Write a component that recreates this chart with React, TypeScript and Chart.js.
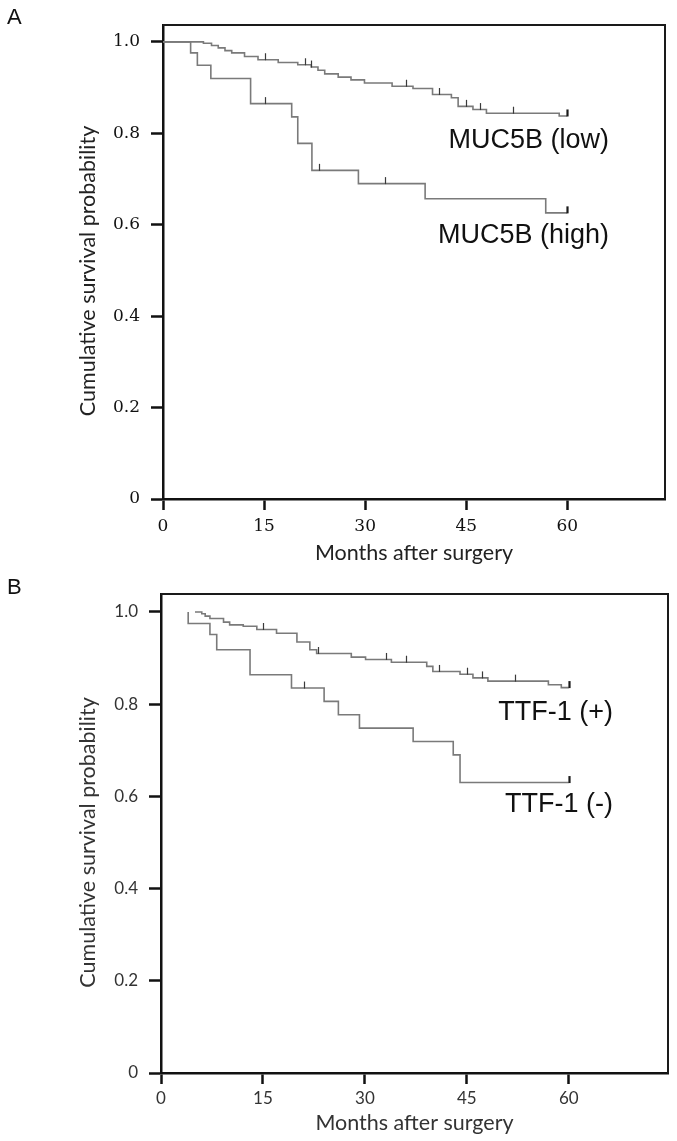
import React, { useEffect, useRef } from 'react';
import { Chart, registerables } from 'chart.js';

Chart.register(...registerables);

// ---------- data ----------
const xTickValues = [0, 15, 30, 45, 60];
const yTickValues = [0, 0.2, 0.4, 0.6, 0.8, 1.0];
const followUp = 60;
const xTitle = 'Months after surgery';
const yTitle = 'Cumulative survival probability';

// Panel A: MUC5B
const lowTimes = [0, 6.0, 7.2, 8.2, 9.2, 10.2, 12.1, 14.1, 17.1, 20.0, 22.0, 23.0, 24.0, 26.0, 27.9, 29.9, 34.0, 37.1, 40.0, 42.8, 43.8, 46.0, 48.0, 58.8, 60];
const lowSurv = [1.0, 0.997, 0.992, 0.987, 0.981, 0.976, 0.968, 0.961, 0.955, 0.950, 0.945, 0.938, 0.930, 0.923, 0.917, 0.910, 0.903, 0.898, 0.885, 0.878, 0.859, 0.852, 0.844, 0.838, 0.838];
const lowCensor = [15.1, 21.0, 22.0, 36.0, 40.9, 44.9, 47.0, 51.9, 60];

const highTimes = [0, 4.1, 5.1, 7.1, 13.0, 19.1, 20.0, 22.1, 29.0, 38.9, 56.8, 60];
const highSurv = [1.0, 0.976, 0.949, 0.920, 0.865, 0.836, 0.778, 0.719, 0.690, 0.657, 0.626, 0.626];
const highCensor = [15.1, 23.1, 33.0, 60];

const labelsA = ['MUC5B (low)', 'MUC5B (high)'];
const labelAX = [66.2, 66.2];
const labelAY = [0.767, 0.560];

// Panel B: TTF-1
const posTimes = [5.0, 6.0, 6.5, 7.2, 9.2, 10.1, 12.1, 14.1, 17.0, 20.0, 21.9, 22.9, 28.0, 30.1, 33.9, 39.1, 40.0, 44.0, 45.9, 48.1, 57.0, 58.9, 60];
const posSurv = [1.0, 0.996, 0.991, 0.986, 0.978, 0.972, 0.969, 0.962, 0.954, 0.935, 0.918, 0.910, 0.902, 0.897, 0.891, 0.882, 0.871, 0.865, 0.857, 0.850, 0.842, 0.836, 0.836];
const posCensor = [15.0, 23.1, 33.1, 36.1, 40.9, 45.0, 47.2, 52.1, 60];

const negTimes = [4.0, 4.0, 7.2, 8.2, 13.1, 19.2, 24.0, 26.1, 29.2, 37.1, 43.0, 44.0, 60];
const negSurv = [1.0, 0.975, 0.951, 0.918, 0.864, 0.835, 0.806, 0.777, 0.748, 0.719, 0.690, 0.630, 0.630];
const negCensor = [21.0, 60];

const labelsB = ['TTF-1 (+)', 'TTF-1 (-)'];
const labelBX = [66.5, 66.5];
const labelBY = [0.766, 0.567];

// ---------- helpers ----------
function survivalAt(times: number[], surv: number[], t: number) {
  let v = surv[0];
  for (let i = 0; i < times.length; i++) {
    if (times[i] <= t) v = surv[i];
  }
  return v;
}

type Series = { times: number[]; surv: number[]; censor: number[] };

type Panel = {
  series: Series[];
  labels: string[];
  labelX: number[];
  labelY: number[];
  yMax: number;
  xMax: number;
  padTop: number;
  padRight: number;
  yWidth: number;
  xHeight: number;
  tickFont: string;
  tickSize: number;
  tickColor: string;
  xTickPad: number;
  titleColor: string;
  xTitlePad: number;
};

const TITLE_FAMILY = 'Lato, "Open Sans", sans-serif';
const TITLE_SIZE = 21.5;

function buildChart(canvas: HTMLCanvasElement, p: Panel) {
  const extras = {
    id: 'kmExtras',
    afterDatasetsDraw(chart: any) {
      const ctx = chart.ctx as CanvasRenderingContext2D;
      const xs = chart.scales.x;
      const ys = chart.scales.y;
      const a = chart.chartArea;
      ctx.save();
      // censor marks
      p.series.forEach((s) => {
        s.censor.forEach((t) => {
          const v = survivalAt(s.times, s.surv, t);
          const px = Math.round(xs.getPixelForValue(t)) + 0.5;
          const py = ys.getPixelForValue(v);
          const end = t >= followUp;
          ctx.strokeStyle = end ? '#1a1a1a' : '#3a3a3a';
          ctx.lineWidth = end ? 2.2 : 1.2;
          ctx.beginPath();
          ctx.moveTo(px, py + 0.5);
          ctx.lineTo(px, py - 6.5);
          ctx.stroke();
        });
      });
      // group labels
      ctx.fillStyle = '#111';
      ctx.font = '27px "Liberation Sans", Arial, sans-serif';
      ctx.textAlign = 'right';
      ctx.textBaseline = 'alphabetic';
      p.labels.forEach((txt, i) => {
        ctx.fillText(txt, xs.getPixelForValue(p.labelX[i]), ys.getPixelForValue(p.labelY[i]));
      });
      // top/right frame
      ctx.strokeStyle = '#1a1a1a';
      ctx.lineWidth = 2;
      ctx.beginPath();
      ctx.moveTo(a.left, a.top);
      ctx.lineTo(a.right, a.top);
      ctx.lineTo(a.right, a.bottom);
      ctx.stroke();
      // y axis title
      ctx.translate(88, (a.top + a.bottom) / 2 + 9);
      ctx.rotate(-Math.PI / 2);
      ctx.fillStyle = p.titleColor;
      ctx.font = `${TITLE_SIZE}px ${TITLE_FAMILY}`;
      ctx.textAlign = 'center';
      ctx.textBaseline = 'middle';
      ctx.fillText(yTitle, 0, 0);
      ctx.restore();
    },
  };

  const datasets = p.series.map((s) => ({
    data: s.times.map((t, i) => ({ x: t, y: s.surv[i] })),
    stepped: true as const,
    borderColor: '#7a7a7a',
    borderWidth: 1.6,
    pointRadius: 0,
    fill: false,
  }));

  const tickFont = { family: p.tickFont, size: p.tickSize };
  const titleFont = { family: TITLE_FAMILY, size: TITLE_SIZE };

  return new Chart(canvas, {
    type: 'line',
    data: { datasets },
    plugins: [extras],
    options: {
      animation: false,
      responsive: false,
      layout: { padding: { left: 0, right: p.padRight, top: p.padTop, bottom: 0 } },
      plugins: { legend: { display: false }, tooltip: { enabled: false } },
      scales: {
        x: {
          type: 'linear',
          min: 0,
          max: p.xMax,
          afterFit: (scale: any) => {
            scale.height = p.xHeight;
          },
          afterBuildTicks: (scale: any) => {
            scale.ticks = xTickValues.map((v) => ({ value: v }));
          },
          ticks: {
            font: tickFont,
            color: p.tickColor,
            padding: p.xTickPad,
            maxRotation: 0,
            autoSkip: false,
            callback: (v: any) => String(v),
          },
          grid: {
            drawOnChartArea: false,
            tickLength: 11,
            tickWidth: 2.5,
            tickColor: '#111',
          },
          border: { display: true, color: '#111', width: 2.5 },
          title: {
            display: true,
            text: xTitle,
            font: titleFont,
            color: p.titleColor,
            padding: { top: 0, bottom: p.xTitlePad },
          },
        },
        y: {
          type: 'linear',
          min: 0,
          max: p.yMax,
          afterFit: (scale: any) => {
            scale.width = p.yWidth;
          },
          afterBuildTicks: (scale: any) => {
            scale.ticks = yTickValues.map((v) => ({ value: v }));
          },
          ticks: {
            font: tickFont,
            color: p.tickColor,
            padding: 11,
            autoSkip: false,
            callback: (v: any) => (v === 0 ? '0' : Number(v).toFixed(1)),
          },
          grid: {
            drawOnChartArea: false,
            tickLength: 12,
            tickWidth: 2.5,
            tickColor: '#111',
          },
          border: { display: true, color: '#111', width: 2.5 },
          title: { display: false },
        },
      },
    } as any,
  });
}

const panelA: Panel = {
  series: [
    { times: lowTimes, surv: lowSurv, censor: lowCensor },
    { times: highTimes, surv: highSurv, censor: highCensor },
  ],
  labels: labelsA,
  labelX: labelAX,
  labelY: labelAY,
  yMax: 1.037,
  xMax: 74.5,
  padTop: 25,
  padRight: 12,
  yWidth: 163,
  xHeight: 71,
  tickFont: '"DejaVu Serif", serif',
  tickSize: 17,
  tickColor: '#111',
  xTickPad: 6,
  titleColor: '#222',
  xTitlePad: 4,
};

const panelB: Panel = {
  series: [
    { times: posTimes, surv: posSurv, censor: posCensor },
    { times: negTimes, surv: negSurv, censor: negCensor },
  ],
  labels: labelsB,
  labelX: labelBX,
  labelY: labelBY,
  yMax: 1.039,
  xMax: 74.6,
  padTop: 24,
  padRight: 9,
  yWidth: 161,
  xHeight: 68,
  tickFont: 'Lato, "Open Sans", sans-serif',
  tickSize: 17,
  tickColor: '#333',
  xTickPad: 4,
  titleColor: '#333',
  xTitlePad: 5,
};

export default function App() {
  const refA = useRef<HTMLCanvasElement | null>(null);
  const refB = useRef<HTMLCanvasElement | null>(null);

  useEffect(() => {
    const cA = refA.current ? buildChart(refA.current, panelA) : null;
    const cB = refB.current ? buildChart(refB.current, panelB) : null;
    return () => {
      cA && cA.destroy();
      cB && cB.destroy();
    };
  }, []);

  const letter: React.CSSProperties = {
    position: 'absolute',
    left: 7,
    fontFamily: '"Liberation Sans", Arial, sans-serif',
    fontSize: 22,
    lineHeight: '22px',
    color: '#111',
  };

  return (
    <div style={{ position: 'absolute', left: 0, top: 0, width: 677, height: 1141, background: '#fff', overflow: 'hidden' }}>
      <canvas ref={refA} width={677} height={570} style={{ position: 'absolute', left: 0, top: 0, display: 'block' }} />
      <canvas ref={refB} width={677} height={571} style={{ position: 'absolute', left: 0, top: 570, display: 'block' }} />
      <div style={{ ...letter, top: 6 }}>A</div>
      <div style={{ ...letter, top: 576 }}>B</div>
    </div>
  );
}
